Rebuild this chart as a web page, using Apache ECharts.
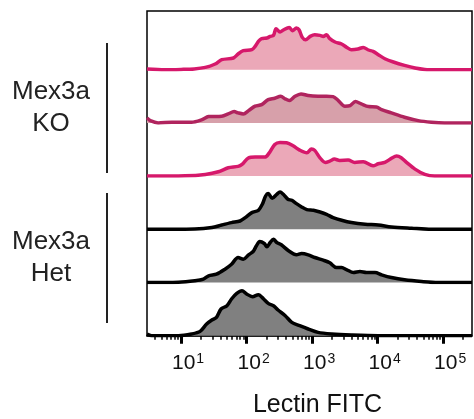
<!DOCTYPE html>
<html>
<head>
<meta charset="utf-8">
<script src="https://cdn.jsdelivr.net/npm/echarts@6/dist/echarts.min.js"></script>
<style>
html, body { margin: 0; padding: 0; background: #fff; }
#chart { width: 474px; height: 419px; }
</style>
</head>
<body>
<div id="chart"></div>
<script>
// x = log10(Lectin FITC), y = histogram height
var ko1 = [[0.48,0.8],[0.75,0],[1.0,0.3],[1.2,0.8],[1.37,2.3],[1.52,5.7],[1.62,10],[1.8,11.7],[1.87,15.7],[1.95,19],[2.08,20],[2.13,23.3],[2.18,28.3],[2.23,31],[2.31,31.7],[2.36,33.3],[2.41,34.3],[2.45,41],[2.51,37.7],[2.56,39.7],[2.65,42.3],[2.7,39],[2.76,41.7],[2.8,40],[2.85,32.3],[2.9,30],[2.97,33.3],[3.04,35],[3.12,34.3],[3.17,33.3],[3.22,35],[3.27,31],[3.35,27.7],[3.45,25.7],[3.53,22.3],[3.6,20],[3.7,20.7],[3.78,22.3],[3.86,19.7],[3.93,18.3],[4.01,15],[4.11,11],[4.24,7.7],[4.41,4.3],[4.57,1.7],[4.72,0.3],[4.9,0],[5.44,0]];
var ko2 = [[0.48,5],[0.53,2.3],[0.65,0],[0.86,0.7],[1.16,0.7],[1.32,3.3],[1.42,6.3],[1.62,6.7],[1.72,9],[1.81,11.3],[1.87,10],[1.95,9],[2.03,12.3],[2.13,16.7],[2.23,18.3],[2.33,23.3],[2.43,24.7],[2.52,26.7],[2.59,24],[2.65,22.3],[2.74,26.7],[2.83,29],[2.94,27.3],[3.09,26.7],[3.22,26.7],[3.32,26.3],[3.4,22.3],[3.5,16.7],[3.58,17.3],[3.66,21.3],[3.75,19],[3.86,16.3],[3.98,16],[4.06,13.3],[4.21,10],[4.41,5.7],[4.62,2.3],[4.82,0.7],[5.02,0],[5.44,0]];
var ko3 = [[0.48,0],[1.06,0.3],[1.37,1.7],[1.57,4.3],[1.72,8.3],[1.87,9.7],[1.93,11.7],[2.03,18.3],[2.13,19],[2.28,19],[2.34,22.7],[2.43,31.7],[2.51,33.7],[2.61,33.3],[2.71,30.3],[2.81,26],[2.92,23.3],[2.99,27],[3.04,25.7],[3.12,18.3],[3.2,13.7],[3.27,15],[3.34,17],[3.42,15.7],[3.55,16],[3.65,13.7],[3.78,14.3],[3.93,10.3],[4.01,12.3],[4.11,13.7],[4.21,17.7],[4.29,20],[4.36,18.3],[4.44,13.7],[4.57,7],[4.72,1.7],[4.87,0],[5.44,0]];
var het1 = [[0.48,0],[1.21,0.3],[1.47,1.7],[1.62,4.3],[1.77,6.7],[1.9,8.3],[1.98,11.7],[2.08,16.7],[2.18,19],[2.24,25],[2.29,33.3],[2.33,35.7],[2.39,31],[2.46,35],[2.51,37.3],[2.56,35],[2.63,30],[2.69,29],[2.76,25.7],[2.84,22.3],[2.92,19.7],[3.02,19],[3.12,17.3],[3.22,15],[3.32,11.7],[3.45,9],[3.6,6.7],[3.81,5],[4.01,4.3],[4.21,2.3],[4.52,1],[4.82,0],[5.44,0]];
var het2 = [[0.48,0],[0.96,0.3],[1.21,1.7],[1.34,3.3],[1.42,6.7],[1.54,8.3],[1.67,13.3],[1.77,18.3],[1.87,25],[1.95,23.3],[2.03,27.7],[2.1,31],[2.15,36.7],[2.2,41],[2.27,39],[2.31,35.7],[2.36,40],[2.41,43.3],[2.46,40],[2.53,37.7],[2.64,31.7],[2.76,27.7],[2.84,29],[2.94,27.7],[3.04,25],[3.17,22.3],[3.27,19.7],[3.37,15],[3.45,15],[3.53,12.7],[3.63,10],[3.73,11],[3.83,10],[3.96,10],[4.06,7.7],[4.21,5],[4.41,2.7],[4.67,1],[4.92,0],[5.44,0]];
var het3 = [[0.48,1.5],[0.55,0],[0.96,0],[1.16,1.7],[1.29,4.3],[1.39,11.7],[1.47,15.7],[1.54,18.3],[1.61,26.7],[1.7,30],[1.77,36.7],[1.85,42.3],[1.93,45],[2.0,41.7],[2.09,39],[2.18,41],[2.26,36.7],[2.33,32.3],[2.41,30],[2.48,25.7],[2.59,20],[2.69,13.3],[2.81,10],[2.94,6.7],[3.09,3.3],[3.3,1.7],[3.6,0.7],[4.01,0],[5.44,0]];

var rows = [ko1, ko2, ko3, het1, het2, het3];
var lineColors = ['#d6186b', '#b0245e', '#d6186b', '#000000', '#000000', '#000000'];
var fillColors = ['#eba8b8', '#d7a0aa', '#eba8b8', '#808080', '#808080', '#808080'];

var majorTicks = [1, 2, 3, 4, 5];
var minorTickValues = [4, 5, 6, 7, 8, 9,
    20, 30, 40, 50, 60, 70, 80, 90,
    200, 300, 400, 500, 600, 700, 800, 900,
    2000, 3000, 4000, 5000, 6000, 7000, 8000, 9000,
    20000, 30000, 40000, 50000, 60000, 70000, 80000, 90000,
    200000];
var xMin = 0.48, xMax = 5.44;
var rowH = 53.2;

var grids = [], xAxes = [], yAxes = [], series = [];
for (var i = 0; i < rows.length; i++) {
    grids.push({ left: 147, right: 2, top: 16.5 + rowH * i, height: rowH });
    var xa = { type: 'value', gridIndex: i, min: xMin, max: xMax, show: false };
    if (i == rows.length - 1) {
        xa = {
            type: 'value', gridIndex: i, min: xMin, max: xMax,
            axisLine: { show: true, lineStyle: { color: '#000', width: 1.5 } },
            axisTick: { show: true, customValues: majorTicks, length: 8, lineStyle: { color: '#000', width: 3 } },
            axisLabel: {
                customValues: majorTicks,
                margin: 16,
                padding: [0, 0, 0, 14],
                color: '#111',
                fontFamily: 'Liberation Sans',
                fontSize: 21,
                formatter: function (v) { return '10{s|' + v + '}'; },
                rich: { s: { fontSize: 14, fontFamily: 'Liberation Sans', color: '#111', padding: [0, 0, 9, 1] } }
            },
            splitLine: { show: false },
            name: 'Lectin FITC',
            nameLocation: 'middle',
            nameGap: 57,
            nameTextStyle: { fontSize: 25, fontFamily: 'Liberation Sans', color: '#111', padding: [0, 0, 0, 16] }
        };
    }
    xAxes.push(xa);
    yAxes.push({ type: 'value', gridIndex: i, min: 0, max: rowH, show: false });
    series.push({
        type: 'line',
        xAxisIndex: i,
        yAxisIndex: i,
        data: rows[i],
        smooth: 0.3,
        symbol: 'none',
        lineStyle: { color: lineColors[i], width: 3.5, join: 'round' },
        areaStyle: { color: fillColors[i], opacity: 1 },
        z: 3
    });
}

// frame around the stack + minor ticks
grids.push({ left: 147, right: 2, top: 11, bottom: 83.3, show: true, borderColor: '#000', borderWidth: 1.5 });
xAxes.push({
    type: 'value', gridIndex: 6, min: xMin, max: xMax,
    axisLine: { show: false },
    axisTick: { show: true, customValues: minorTickValues.map(function (v) { return Math.log10(v); }), length: 4, lineStyle: { color: '#000', width: 1.5 } },
    axisLabel: { show: false },
    splitLine: { show: false }
});
yAxes.push({ type: 'value', gridIndex: 6, min: 0, max: 1, show: false });

var chart = echarts.init(document.getElementById('chart'));
chart.setOption({
    animation: false,
    grid: grids,
    xAxis: xAxes,
    yAxis: yAxes,
    series: series,
    graphic: [
        { type: 'line', shape: { x1: 107, y1: 43, x2: 107, y2: 173 }, style: { stroke: '#222', lineWidth: 2 } },
        { type: 'line', shape: { x1: 107, y1: 193, x2: 107, y2: 323 }, style: { stroke: '#222', lineWidth: 2 } },
        { type: 'text', style: { text: 'Mex3a\nKO', x: 51, y: 108, align: 'center', verticalAlign: 'middle', fontSize: 26, fontFamily: 'Liberation Sans', lineHeight: 32, fill: '#222' } },
        { type: 'text', style: { text: 'Mex3a\nHet', x: 51, y: 258, align: 'center', verticalAlign: 'middle', fontSize: 26, fontFamily: 'Liberation Sans', lineHeight: 32, fill: '#222' } }
    ]
});
</script>
</body>
</html>
